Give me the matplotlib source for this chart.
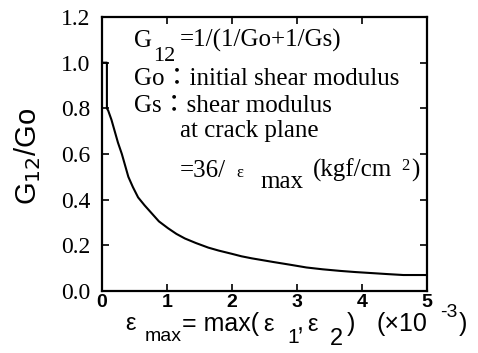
import matplotlib
matplotlib.use('Agg')
import matplotlib.pyplot as plt

# G12/Go against the largest principal strain (x 10^-3)
strain = [0.0, 0.08, 0.08, 0.10, 0.15, 0.20, 0.25, 0.31, 0.36, 0.41, 0.48,
          0.56, 0.66, 0.77, 0.88, 1.02, 1.15, 1.28, 1.45, 1.64, 1.80, 2.00,
          2.15, 2.31, 2.64, 2.90, 3.15, 3.40, 3.67, 3.90, 4.18, 4.40, 4.64,
          5.00]
ratio = [1.0, 1.0, 0.80, 0.79, 0.75, 0.70, 0.65, 0.60, 0.55, 0.50, 0.455,
         0.41, 0.375, 0.34, 0.305, 0.275, 0.25, 0.23, 0.21, 0.19, 0.177,
         0.163, 0.152, 0.143, 0.127, 0.115, 0.103, 0.095, 0.088, 0.083,
         0.078, 0.074, 0.070, 0.070]

xticks = [0, 1, 2, 3, 4, 5]
yticks = [0.0, 0.2, 0.4, 0.6, 0.8, 1.0, 1.2]

W, H = 478, 353
serif = ['Liberation Serif', 'Noto Sans CJK JP']
sans = 'Liberation Sans'

fig = plt.figure(figsize=(W / 100, H / 100), dpi=100)
ax = fig.add_axes([101.7 / W, 1 - 291 / H, 325 / W, 274 / H])

ax.plot(strain, ratio, color='black', lw=1.5)

ax.set_xlim(0, 5)
ax.set_ylim(0, 1.2)
ax.set_xticks(xticks)
ax.set_yticks(yticks)
ax.set_xticklabels([str(t) for t in xticks], fontfamily=sans, fontsize=14,
                   fontweight='bold')
ax.set_yticklabels(['%.1f' % t for t in yticks], fontfamily='Liberation Serif',
                   fontsize=17)
ax.tick_params(direction='in', which='both', top=True, right=True,
               length=5, width=1.2)
ax.tick_params(axis='x', pad=2)
ax.tick_params(axis='y', pad=8)
for s in ax.spines.values():
    s.set_linewidth(1.6)


def put(x, y, s, **kw):
    # place text by pixel position (from top-left)
    fig.text(x / W, 1 - y / H, s, va='baseline', ha='left', **kw)


# y axis label
fig.text(28 / W, 1 - 156 / H, 'G$_{12}$/Go', family=sans, fontsize=21,
         rotation=90, ha='center', va='center')

# formula block
fs = 18
put(134, 47, 'G', family=serif, fontsize=fs)
put(153, 61, '12', family=serif, fontsize=16)
put(180, 47, '=1/(1/Go+1/Gs)', family=serif, fontsize=fs)
put(134, 85, 'Go：initial shear modulus', family=serif, fontsize=fs)
put(134, 112, 'Gs：shear modulus', family=serif, fontsize=fs)
put(180, 137, 'at crack plane', family=serif, fontsize=fs)
put(180, 177, '=36/', family=serif, fontsize=fs)
put(236, 177, 'ε', family=serif, fontsize=12)
put(260, 188, 'max', family=serif, fontsize=fs)
put(313, 177, '(kgf/cm', family=serif, fontsize=fs)
put(401, 170, '2', family=serif, fontsize=12)
put(411, 177, ')', family=serif, fontsize=fs)

# x axis label
put(125, 330, 'ε', family=sans, fontsize=17)
put(145, 341, 'max', family=sans, fontsize=14)
put(182, 331, '= max(', family=sans, fontsize=18)
put(263, 331, 'ε', family=sans, fontsize=17)
put(287, 343, '1', family=sans, fontsize=15)
put(297, 331, ',', family=sans, fontsize=18)
put(307, 331, 'ε', family=sans, fontsize=17)
put(330, 345, '2', family=sans, fontsize=17)
put(347, 331, ')', family=sans, fontsize=18)
put(377, 331, '(×10', family=sans, fontsize=18)
put(440, 317, '-3', family=sans, fontsize=14)
put(459, 331, ')', family=sans, fontsize=18)

fig.savefig('out.png', dpi=100)
